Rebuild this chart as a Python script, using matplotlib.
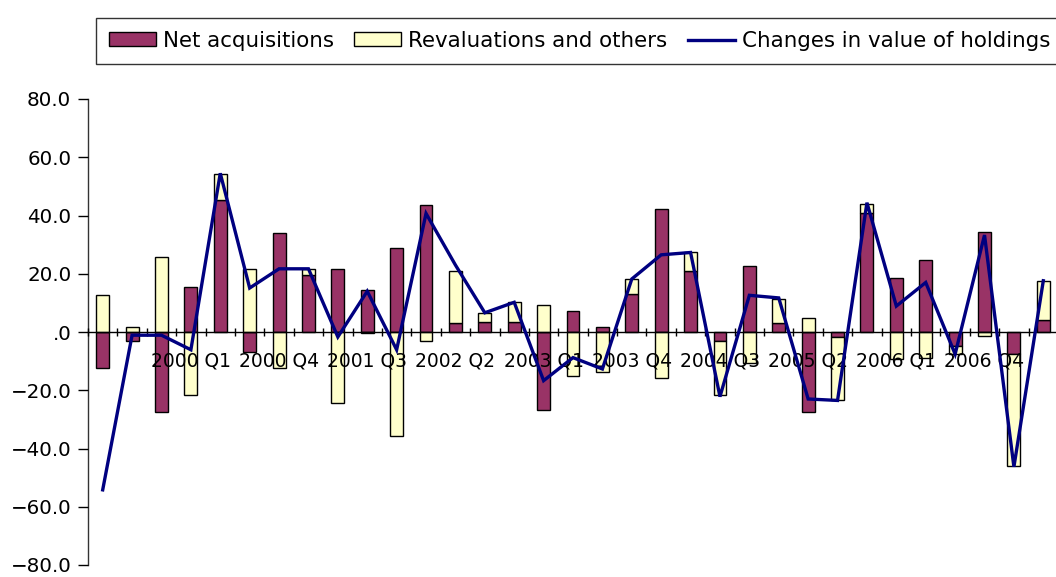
import matplotlib
matplotlib.use("Agg")
import matplotlib.pyplot as plt
import numpy as np
from matplotlib.ticker import FixedLocator, FuncFormatter
from matplotlib.patches import Patch
from matplotlib.lines import Line2D

plt.rcParams['font.family'] = ['DejaVu Sans']

categories = [
    "1999 Q2", "1999 Q3", "1999 Q4", "2000 Q1", "2000 Q2", "2000 Q3", "2000 Q4",
    "2001 Q1", "2001 Q2", "2001 Q3", "2001 Q4", "2002 Q1", "2002 Q2", "2002 Q3",
    "2002 Q4", "2003 Q1", "2003 Q2", "2003 Q3", "2003 Q4", "2004 Q1", "2004 Q2",
    "2004 Q3", "2004 Q4", "2005 Q1", "2005 Q2", "2005 Q3", "2005 Q4", "2006 Q1",
    "2006 Q2", "2006 Q3", "2006 Q4", "2007 Q1", "2007 Q2",
]

net_acquisitions = [
    -12.2, -3.2, -27.3, 15.6, 45.2, -6.7, 33.9, 19.7, 21.7, 14.5, 29.0,
    43.5, 3.0, 3.5, 3.5, -26.7, 7.2, 1.7, 13.2, 42.2, 21.1, -3.1,
    22.8, 3.0, -27.3, -1.7, 41.0, 18.5, 24.8, -4.8, 34.4, -7.6, 4.1,
]

revaluations = [
    12.6, 1.7, 25.9, -21.8, 9.1, 21.7, -12.2, 2.0, -24.3, -0.5, -35.7,
    -3.1, 18.1, 3.1, 6.7, 9.4, -15.2, -13.9, 5.0, -15.8, 6.2, -18.7,
    -10.6, 8.5, 4.9, -21.8, 3.1, -9.4, -8.9, -2.8, -1.4, -38.4, 13.5,
]

changes_in_value = [
    -54.2, -1.1, -1.1, -6.1, 54.5, 15.1, 21.7, 21.7, -1.7, 14.0, -6.1,
    40.7, 23.0, 6.6, 10.2, -16.7, -8.8, -12.7, 18.2, 26.5, 27.3, -22.2,
    12.6, 11.7, -23.0, -23.5, 44.4, 8.9, 17.0, -7.6, 33.3, -46.3, 17.6,
]

y_ticks = [-80, -60, -40, -20, 0, 20, 40, 60, 80]

C_NET = "#993366"
C_REV = "#FFFFCC"
C_LINE = "#000080"

W, H, DPI = 1056, 577, 100
fig = plt.figure(figsize=(W / DPI, H / DPI), dpi=DPI)
left_px, right_px, top_px, bot_px = 88, 1058, 99, 565
ax = fig.add_axes([left_px / W, 1 - bot_px / H, (right_px - left_px) / W, (bot_px - top_px) / H])

x = np.arange(len(categories))
net = np.array(net_acquisitions)
rev = np.array(revaluations)
rev_bottom = np.where(np.sign(rev) == np.sign(net), net, 0.0)

bw = 0.44
ax.bar(x, net, width=bw, color=C_NET, edgecolor="black", linewidth=1.0, zorder=1)
ax.bar(x, rev, width=bw, bottom=rev_bottom, color=C_REV, edgecolor="black", linewidth=1.0, zorder=1)
ax.plot(x, changes_in_value, color=C_LINE, linewidth=2.4, zorder=3, solid_joinstyle="miter")
ax.set_axisbelow(False)

ax.set_xlim(-0.5, len(categories) - 0.5)
ax.set_ylim(-80, 80)

for s in ["top", "right"]:
    ax.spines[s].set_visible(False)
ax.spines["bottom"].set_position(("data", 0))
ax.spines["bottom"].set_linewidth(1.0)
ax.spines["left"].set_linewidth(1.0)
ax.spines["left"].set_color("#333333")

ax.yaxis.set_major_locator(FixedLocator(y_ticks))
def yfmt(v, pos):
    s = f"{v:.1f}"
    if s in ("0.0", "-0.0"):
        return ".0"
    return s.replace("-", "\u2212")
ax.yaxis.set_major_formatter(FuncFormatter(yfmt))
ax.tick_params(axis="y", direction="out", length=7, width=1.0, pad=5, labelsize=14.3, colors="black")

label_idx = list(range(3, len(categories), 3))
ax.set_xticks(label_idx)
ax.set_xticklabels([categories[i] for i in label_idx])
ax.tick_params(axis="x", which="major", length=0, pad=14, labelsize=13.5)
ax.set_xticks(np.arange(len(categories) + 1) - 0.5, minor=True)
ax.tick_params(axis="x", which="minor", direction="inout", length=6, width=1.0)

handles = [
    Patch(facecolor=C_NET, edgecolor="black", linewidth=1.0, label="Net acquisitions"),
    Patch(facecolor=C_REV, edgecolor="black", linewidth=1.0, label="Revaluations and others"),
    Line2D([0], [0], color=C_LINE, linewidth=2.4, label="Changes in value of holdings"),
]
leg = fig.legend(handles=handles, loc="upper left", bbox_to_anchor=(96 / W, 1 - 18 / H),
                 ncol=3, fontsize=15.4, frameon=True, fancybox=False, shadow=False,
                 borderpad=0.6, borderaxespad=0, handlelength=2.2, handletextpad=0.33,
                 columnspacing=0.95, handleheight=0.62)
leg.get_frame().set_edgecolor("#333333")
leg.get_frame().set_linewidth(1.0)
leg.get_frame().set_alpha(1)

fig.savefig("out.png", dpi=DPI)
